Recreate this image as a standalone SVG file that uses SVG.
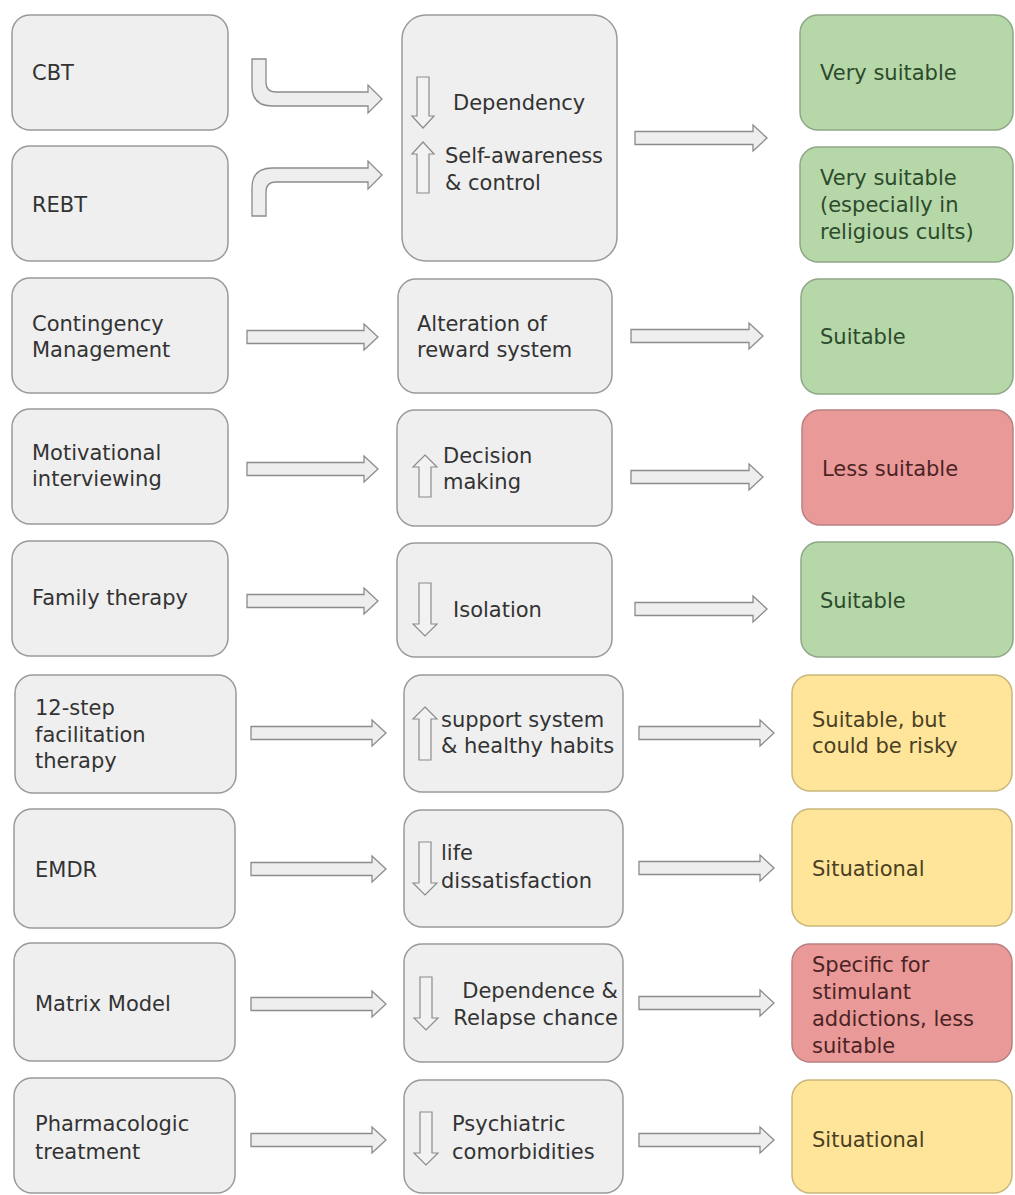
<svg xmlns="http://www.w3.org/2000/svg" width="1015" height="1195" viewBox="0 0 1015 1195">
<style>
.box{fill:#efefef;stroke:#9a9a9a;stroke-width:1.5}
.g{fill:#b6d7a8;stroke:#8ea886;stroke-width:1.5}
.r{fill:#ea9999;stroke:#b98080;stroke-width:1.5}
.y{fill:#ffe599;stroke:#c9b67a;stroke-width:1.5}
.arr{fill:#eeeeee;stroke:#8c8c8c;stroke-width:1.3}
.ic{fill:#f2f2f2;stroke:#8c8c8c;stroke-width:1.2}
text{font-family:"DejaVu Sans","Liberation Sans",sans-serif;font-size:21px;fill:#333333}
.tg{fill:#2c4a2c}
.tr{fill:#4a2424}
.ty{fill:#4a4024}
</style>
<rect width="1015" height="1195" fill="#ffffff"/>

<g id="connectors">
<path class="arr" d="M252,59 H266 V82 Q266,92 276,92 H368 V85 L382,99 L368,113 V106 H272 Q252,106 252,86 Z"/>
<path class="arr" d="M252,216 H266 V192 Q266,182 276,182 H368 V189 L382,175 L368,161 V168 H272 Q252,168 252,188 Z"/>
<path class="arr" d="M247,330.5 H364 V324 L378,337 L364,350 V343.5 H247 Z"/>
<path class="arr" d="M247,462.5 H364 V456 L378,469 L364,482 V475.5 H247 Z"/>
<path class="arr" d="M247,594.5 H364 V588 L378,601 L364,614 V607.5 H247 Z"/>
<path class="arr" d="M251,726.5 H372 V720 L386,733 L372,746 V739.5 H251 Z"/>
<path class="arr" d="M251,862.5 H372 V856 L386,869 L372,882 V875.5 H251 Z"/>
<path class="arr" d="M251,997.5 H372 V991 L386,1004 L372,1017 V1010.5 H251 Z"/>
<path class="arr" d="M251,1133.5 H372 V1127 L386,1140 L372,1153 V1146.5 H251 Z"/>
<path class="arr" d="M635,131.5 H753 V125 L767,138 L753,151 V144.5 H635 Z"/>
<path class="arr" d="M631,329.5 H749 V323 L763,336 L749,349 V342.5 H631 Z"/>
<path class="arr" d="M631,470.5 H749 V464 L763,477 L749,490 V483.5 H631 Z"/>
<path class="arr" d="M635,602.5 H753 V596 L767,609 L753,622 V615.5 H635 Z"/>
<path class="arr" d="M639,726.5 H760 V720 L774,733 L760,746 V739.5 H639 Z"/>
<path class="arr" d="M639,861.5 H760 V855 L774,868 L760,881 V874.5 H639 Z"/>
<path class="arr" d="M639,996.5 H760 V990 L774,1003 L760,1016 V1009.5 H639 Z"/>
<path class="arr" d="M639,1133.5 H760 V1127 L774,1140 L760,1153 V1146.5 H639 Z"/>
</g>

<!-- left column -->
<g id="cbt"><rect class="box" x="12" y="15" width="216" height="115" rx="18"/><text x="32" y="80">CBT</text></g>
<g id="rebt"><rect class="box" x="12" y="146" width="216" height="115" rx="18"/><text x="32" y="212">REBT</text></g>
<g id="contingency"><rect class="box" x="12" y="278" width="216" height="115" rx="18"/><text x="32" y="331">Contingency</text><text x="32" y="357">Management</text></g>
<g id="motivational"><rect class="box" x="12" y="409" width="216" height="115" rx="18"/><text x="32" y="460">Motivational</text><text x="32" y="486">interviewing</text></g>
<g id="family"><rect class="box" x="12" y="541" width="216" height="115" rx="18"/><text x="32" y="605">Family therapy</text></g>
<g id="twelvestep"><rect class="box" x="15" y="675" width="221" height="118" rx="18"/><text x="35" y="715">12-step</text><text x="35" y="742">facilitation</text><text x="35" y="768">therapy</text></g>
<g id="emdr"><rect class="box" x="14" y="809" width="221" height="119" rx="18"/><text x="35" y="877">EMDR</text></g>
<g id="matrix"><rect class="box" x="14" y="943" width="221" height="118" rx="18"/><text x="35" y="1011">Matrix Model</text></g>
<g id="pharma"><rect class="box" x="14" y="1078" width="221" height="115" rx="18"/><text x="35" y="1131">Pharmacologic</text><text x="35" y="1159">treatment</text></g>

<!-- middle column -->
<g id="m-dependency"><rect class="box" x="402" y="15" width="215" height="246" rx="24"/>
<path class="ic" d="M417,77 H429 V116 H434 L423,128 L412,116 H417 Z"/>
<path class="ic" d="M423,142 L434,154 H429 V193 H417 V154 H412 Z"/>
<text x="453" y="110">Dependency</text><text x="445" y="163">Self-awareness</text><text x="445" y="190">&amp; control</text></g>
<g id="m-reward"><rect class="box" x="398" y="279" width="214" height="114" rx="18"/><text x="417" y="331">Alteration of</text><text x="417" y="357">reward system</text></g>
<g id="m-decision"><rect class="box" x="397" y="410" width="215" height="116" rx="18"/>
<path class="ic" d="M425,455 L437,467 H431 V497 H419 V467 H413 Z"/>
<text x="443" y="463">Decision</text><text x="443" y="489">making</text></g>
<g id="m-isolation"><rect class="box" x="397" y="543" width="215" height="114" rx="18"/>
<path class="ic" d="M419,583 H431 V624 H437 L425,636 L413,624 H419 Z"/>
<text x="453" y="617">Isolation</text></g>
<g id="m-support"><rect class="box" x="404" y="675" width="219" height="117" rx="18"/>
<path class="ic" d="M425,707 L437,719 H431 V760 H419 V719 H413 Z"/>
<text x="441" y="727">support system</text><text x="441" y="753">&amp; healthy habits</text></g>
<g id="m-life"><rect class="box" x="404" y="810" width="219" height="117" rx="18"/>
<path class="ic" d="M419,842 H431 V883 H437 L425,895 L413,883 H419 Z"/>
<text x="441" y="860">life</text><text x="441" y="888">dissatisfaction</text></g>
<g id="m-dependence"><rect class="box" x="404" y="944" width="219" height="118" rx="18"/>
<path class="ic" d="M420,977 H432 V1018 H438 L426,1030 L414,1018 H420 Z"/>
<text x="618" y="998" text-anchor="end">Dependence &amp;</text><text x="618" y="1025" text-anchor="end">Relapse chance</text></g>
<g id="m-psychiatric"><rect class="box" x="404" y="1080" width="219" height="113" rx="18"/>
<path class="ic" d="M420,1112 H432 V1153 H438 L426,1165 L414,1153 H420 Z"/>
<text x="452" y="1131">Psychiatric</text><text x="452" y="1159">comorbidities</text></g>

<!-- right column -->
<g id="r1"><rect class="g" x="800" y="15" width="213" height="115" rx="18"/><text class="tg" x="820" y="80">Very suitable</text></g>
<g id="r2"><rect class="g" x="800" y="147" width="213" height="115" rx="18"/><text class="tg" x="820" y="185">Very suitable</text><text class="tg" x="820" y="212">(especially in</text><text class="tg" x="820" y="239">religious cults)</text></g>
<g id="r3"><rect class="g" x="801" y="279" width="212" height="115" rx="18"/><text class="tg" x="820" y="344">Suitable</text></g>
<g id="r4"><rect class="r" x="802" y="410" width="211" height="115" rx="18"/><text class="tr" x="822" y="476">Less suitable</text></g>
<g id="r5"><rect class="g" x="801" y="542" width="212" height="115" rx="18"/><text class="tg" x="820" y="608">Suitable</text></g>
<g id="r6"><rect class="y" x="792" y="675" width="220" height="116" rx="18"/><text class="ty" x="812" y="727">Suitable, but</text><text class="ty" x="812" y="753">could be risky</text></g>
<g id="r7"><rect class="y" x="792" y="809" width="220" height="117" rx="18"/><text class="ty" x="812" y="876">Situational</text></g>
<g id="r8"><rect class="r" x="792" y="944" width="220" height="118" rx="18"/><text class="tr" x="812" y="972">Specific for</text><text class="tr" x="812" y="999">stimulant</text><text class="tr" x="812" y="1026">addictions, less</text><text class="tr" x="812" y="1053">suitable</text></g>
<g id="r9"><rect class="y" x="792" y="1080" width="220" height="113" rx="18"/><text class="ty" x="812" y="1147">Situational</text></g>
</svg>
